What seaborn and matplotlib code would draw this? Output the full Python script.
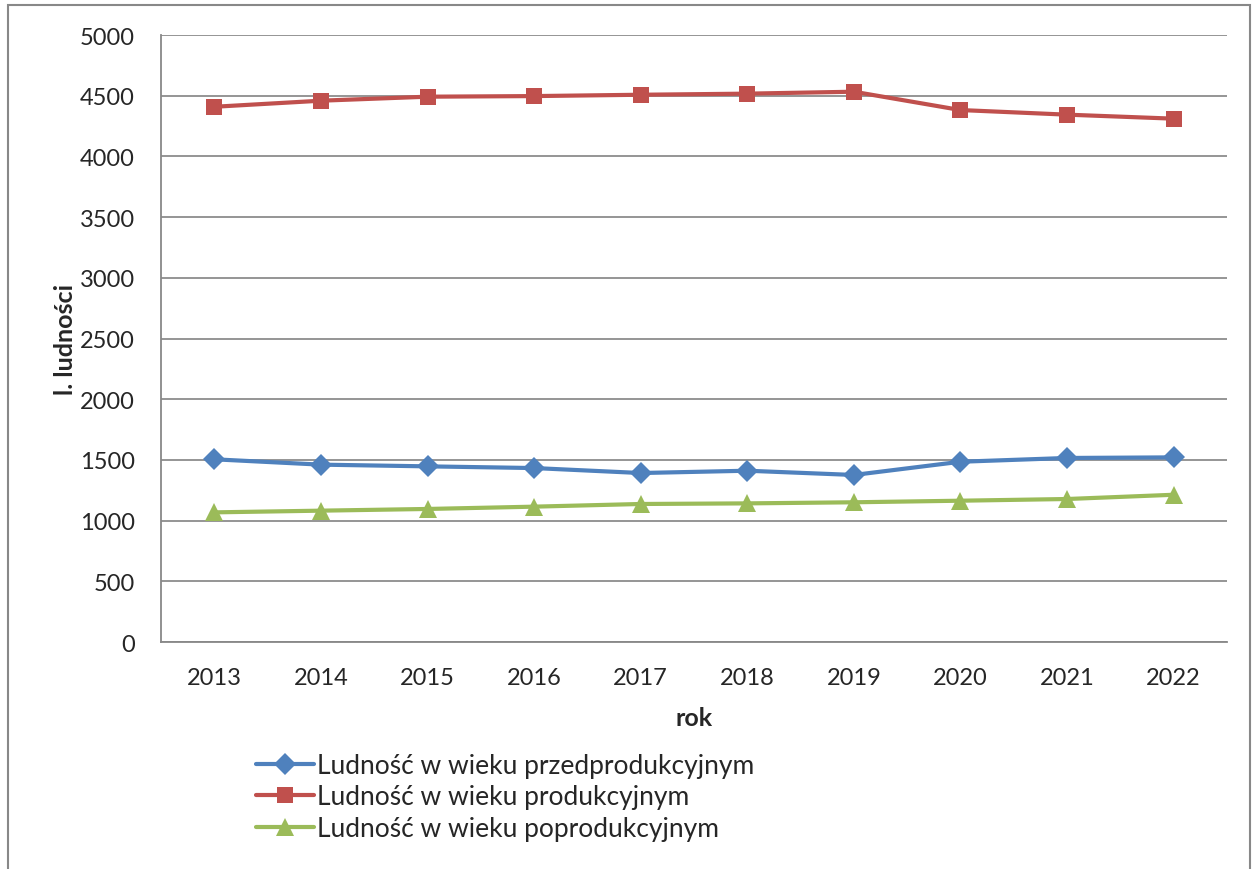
import pandas as pd
import matplotlib.pyplot as plt
import seaborn as sns
from matplotlib.patches import Rectangle
from matplotlib.ticker import FixedLocator

# Data
years = [2013, 2014, 2015, 2016, 2017, 2018, 2019, 2020, 2021, 2022]
przed = [1505, 1461, 1447, 1433, 1392, 1411, 1376, 1485, 1516, 1521]
prod = [4409, 4459, 4492, 4497, 4508, 4517, 4533, 4382, 4344, 4311]
poprod = [1068, 1082, 1096, 1115, 1137, 1142, 1151, 1164, 1178, 1213]

series_names = ["Ludność w wieku przedprodukcyjnym",
                "Ludność w wieku produkcyjnym",
                "Ludność w wieku poprodukcyjnym"]
colors = ["#4F81BD", "#C0504D", "#9BBB59"]
markers = ["D", "s", "^"]

df = pd.concat([
    pd.DataFrame({"rok": years, "value": vals, "seria": name})
    for name, vals in zip(series_names, [przed, prod, poprod])
])

sns.set_theme(style="white")
plt.rcParams['font.family'] = ['Lato', 'DejaVu Sans']

fig = plt.figure(figsize=(12.57, 8.7), dpi=100)
ax = fig.add_axes([0.1281, 0.2609, 0.848, 0.6977])

sns.lineplot(data=df, x="rok", y="value", hue="seria", style="seria",
             palette=dict(zip(series_names, colors)),
             markers=dict(zip(series_names, markers)),
             dashes=False, linewidth=3, markersize=11.5, markeredgewidth=0,
             sort=False, legend=False, ax=ax)
# triangles look smaller at the same size
ax.lines[2].set_markersize(13)

# Axes styling
ax.set_xlim(years[0] - 0.5, years[-1] + 0.5)
ax.set_ylim(0, 5000)
ax.set_yticks(range(0, 5001, 500))
ax.set_xticks(years)
ax.xaxis.set_minor_locator(FixedLocator([y - 0.5 for y in years] + [years[-1] + 0.5]))
ax.tick_params(axis='x', which='major', length=0, labelsize=17, pad=18)
ax.tick_params(axis='x', which='minor', length=6, width=1.3, color='#888888', direction='out')
ax.tick_params(axis='y', length=6, width=1.3, color='#888888', direction='out', labelsize=17, pad=13)
ax.yaxis.grid(True, color='#8c8c8c', linewidth=1.3)
ax.set_axisbelow(True)
for side in ['top', 'right']:
    ax.spines[side].set_visible(False)
for side in ['left', 'bottom']:
    ax.spines[side].set_color('#888888')
    ax.spines[side].set_linewidth(1.3)

ax.set_xlabel("rok", fontsize=18, fontweight='bold', labelpad=13)
ax.set_ylabel("l. ludności", fontsize=18, fontweight='bold', labelpad=2)

ax.legend(handles=ax.lines[:3], labels=series_names, loc='upper left',
          bbox_to_anchor=(0.204, 0.1335), bbox_transform=fig.transFigure,
          frameon=False, fontsize=19, handlelength=2.2, handletextpad=0.08,
          labelspacing=0.25, borderpad=0, borderaxespad=0)

# Outer chart border
fig.patches.append(Rectangle((8 / 1257, -0.1), 1242 / 1257, 1.1 - 6 / 870,
                             transform=fig.transFigure, fill=False,
                             edgecolor='#888888', linewidth=1.5))

fig.savefig("out.png", dpi=100, facecolor='white')
